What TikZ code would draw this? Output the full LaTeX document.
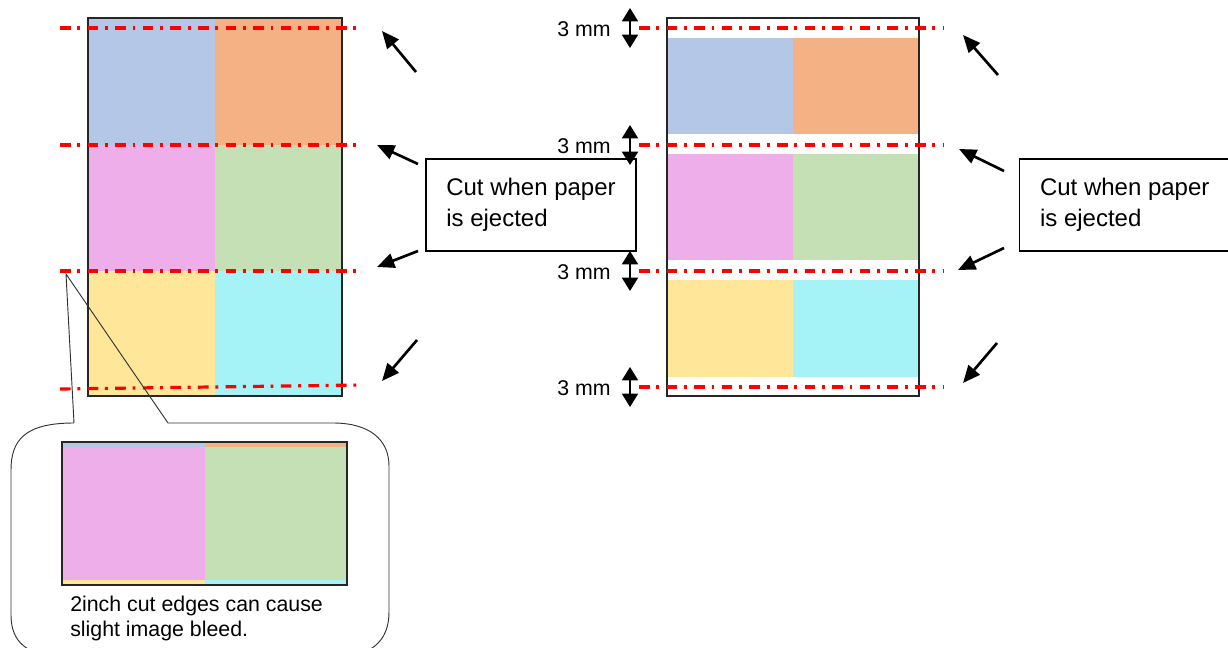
\documentclass[tikz,border=0pt]{standalone}
\usepackage{fontspec}
\setmainfont{Liberation Sans}
\usetikzlibrary{arrows.meta}

\definecolor{bandblue}{HTML}{B4C7E7}
\definecolor{bandorange}{HTML}{F4B183}
\definecolor{bandpink}{HTML}{EEAEE9}
\definecolor{bandgreen}{HTML}{C5E0B4}
\definecolor{bandyellow}{HTML}{FFE699}
\definecolor{bandcyan}{HTML}{A5F3F6}

\begin{document}
\begin{tikzpicture}[x=0.75pt,y=-0.75pt,
  cutline/.style={red, line width=2.4pt, dash pattern=on 8pt off 5pt on 2.2pt off 5.5pt},
  cutarrow/.style={-{Triangle[length=13pt,width=11pt]}, line width=2pt},
  gaparrow/.style={{Triangle[length=10pt,width=12pt]}-{Triangle[length=10pt,width=12pt]}, line width=1.4pt},
  cutbox/.style={draw, line width=1.1pt, align=left, minimum width=157.5pt, minimum height=69pt, font=\fontsize{18}{23}\selectfont},
  gaplabel/.style={font=\fontsize{16}{19}\selectfont},
  sheet/.style={draw=black!85, line width=0.8pt}]
  \useasboundingbox (0,0) rectangle (1228,648);

  % left sheet, printed across the cuts
  \fill[bandblue]   (88,18)   rectangle (215,145);
  \fill[bandorange] (215,18)  rectangle (342,145);
  \fill[bandpink]   (88,145)  rectangle (215,271);
  \fill[bandgreen]  (215,145) rectangle (342,271);
  \fill[bandyellow] (88,271)  rectangle (215,396);
  \fill[bandcyan]   (215,271) rectangle (342,396);
  \draw[sheet] (88,18) rectangle (342,396);
  \foreach \y in {28,145,271}
    \draw[cutline] (60,\y) -- (363,\y);
  \draw[cutline] (60,389) -- (363,385);

  \node[cutbox] (cutL) at (531,205) {Cut when paper\\is ejected};
  \coordinate (l1s) at (416,72);  \coordinate (l1e) at (382,31);
  \coordinate (l2s) at (418,164); \coordinate (l2e) at (377,145);
  \coordinate (l3s) at (418,251); \coordinate (l3e) at (377,267);
  \coordinate (l4s) at (417,340); \coordinate (l4e) at (382,381);
  \foreach \i in {1,...,4}
    \draw[cutarrow] (l\i s) -- (l\i e);

  % callout with the cut-out strip
  \coordinate (tip) at (66,274);
  \draw[black!80, line width=0.7pt] (74,423) -- (tip) -- (168,423) -- (333,423)
    .. controls (370,423) and (389,440) .. (389,466) -- (389,612)
    .. controls (389,642) and (370,656) .. (340,656) -- (62,656)
    .. controls (27,656) and (11,642) .. (11,615) -- (11,470)
    .. controls (11,440) and (25,423) .. (74,423);
  \fill[bandblue]   (62,442)  rectangle (205,447);
  \fill[bandorange] (205,442) rectangle (347,447);
  \fill[bandpink]   (62,447)  rectangle (205,580);
  \fill[bandgreen]  (205,447) rectangle (347,580);
  \fill[bandyellow] (62,580)  rectangle (205,585);
  \fill[bandcyan]   (205,580) rectangle (347,585);
  \draw[sheet] (62,442) rectangle (347,585);
  \node[anchor=north west, inner sep=0pt, align=left, font=\fontsize{16}{18.75}\selectfont] (bleed) at (70,596)
    {2inch cut edges can cause\\slight image bleed.};

  % right sheet, 3 mm white gap at each cut
  \fill[bandblue]   (667,38)  rectangle (793,134);
  \fill[bandorange] (793,38)  rectangle (919,134);
  \fill[bandpink]   (667,154) rectangle (793,260);
  \fill[bandgreen]  (793,154) rectangle (919,260);
  \fill[bandyellow] (667,280) rectangle (793,377);
  \fill[bandcyan]   (793,280) rectangle (919,377);
  \draw[sheet] (667,18) rectangle (919,396);
  \foreach \y/\n in {28/1,145/2,271/3,387/4} {
    \draw[cutline] (639,\y) -- (943,\y);
    \node[gaplabel] (mm\n) at (584,\y+1) {3 mm};
    \draw[gaparrow] (630,\y-20) -- (630,\y+20);
  }

  \node[cutbox, anchor=west] (cutR) at (1019,205) {Cut when paper\\is ejected};
  \coordinate (r1s) at (998,75);  \coordinate (r1e) at (963,35);
  \coordinate (r2s) at (1004,171); \coordinate (r2e) at (959,149);
  \coordinate (r3s) at (1004,248); \coordinate (r3e) at (958,270);
  \coordinate (r4s) at (997,343); \coordinate (r4e) at (963,383);
  \foreach \i in {1,...,4}
    \draw[cutarrow] (r\i s) -- (r\i e);
\end{tikzpicture}
\end{document}
